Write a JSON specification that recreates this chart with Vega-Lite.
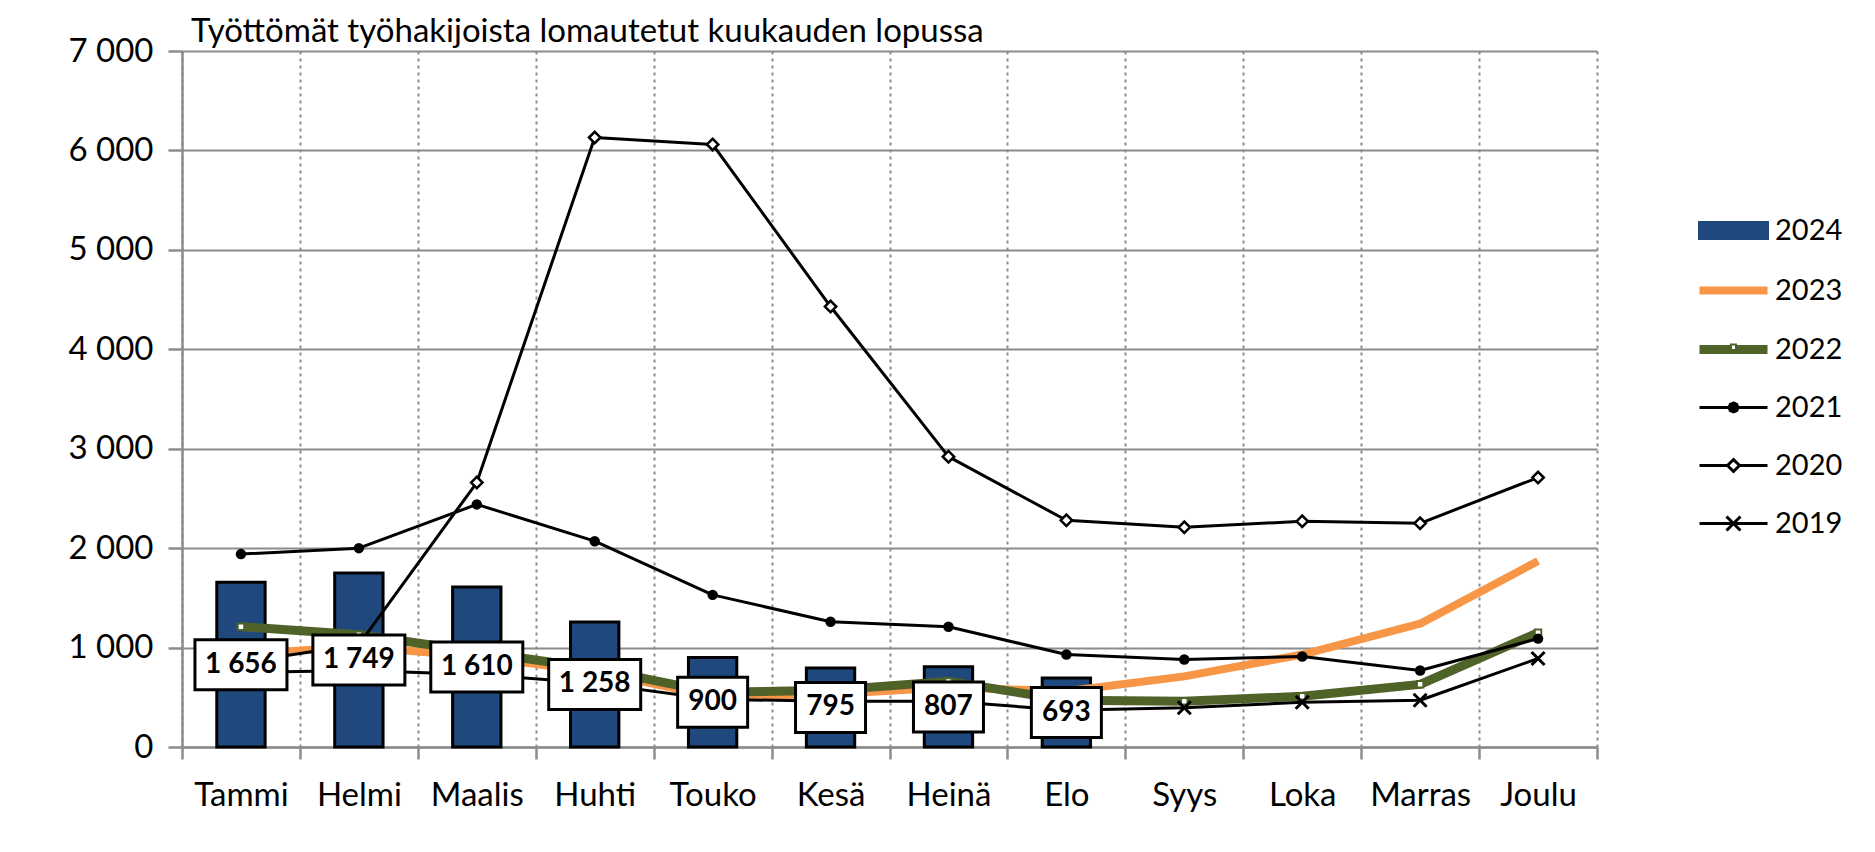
{
  "$schema": "https://vega.github.io/schema/vega-lite/v6.json",
  "width": 1415,
  "height": 696,
  "autosize": {"type": "none"},
  "padding": {"left": 182, "top": 51, "right": 278, "bottom": 105},
  "background": "#ffffff",
  "title": {
    "text": "Työttömät työhakijoista lomautetut kuukauden lopussa",
    "anchor": "start",
    "frame": "group",
    "dx": 9,
    "offset": -40,
    "baseline": "alphabetic",
    "font": "Lato",
    "fontSize": 33,
    "fontWeight": "normal",
    "color": "#000000"
  },
  "config": {
    "font": "Lato",
    "view": {"stroke": null},
    "axis": {
      "title": null,
      "labelFont": "Lato",
      "labelFontSize": 33,
      "labelColor": "#000000",
      "domainColor": "#8C8C8C",
      "domainWidth": 2.5,
      "tickColor": "#8C8C8C",
      "tickWidth": 2.5,
      "gridColor": "#8C8C8C"
    }
  },
  "data": {
    "values": [
      {"m": "Tammi", "y": "2024", "v": 1656},
      {"m": "Helmi", "y": "2024", "v": 1749},
      {"m": "Maalis", "y": "2024", "v": 1610},
      {"m": "Huhti", "y": "2024", "v": 1258},
      {"m": "Touko", "y": "2024", "v": 900},
      {"m": "Kesä", "y": "2024", "v": 795},
      {"m": "Heinä", "y": "2024", "v": 807},
      {"m": "Elo", "y": "2024", "v": 693},

      {"m": "Tammi", "y": "2023", "v": 930},
      {"m": "Helmi", "y": "2023", "v": 1010},
      {"m": "Maalis", "y": "2023", "v": 910},
      {"m": "Huhti", "y": "2023", "v": 760},
      {"m": "Touko", "y": "2023", "v": 510},
      {"m": "Kesä", "y": "2023", "v": 530},
      {"m": "Heinä", "y": "2023", "v": 600},
      {"m": "Elo", "y": "2023", "v": 560},
      {"m": "Syys", "y": "2023", "v": 710},
      {"m": "Loka", "y": "2023", "v": 930},
      {"m": "Marras", "y": "2023", "v": 1240},
      {"m": "Joulu", "y": "2023", "v": 1870},

      {"m": "Tammi", "y": "2022", "v": 1210},
      {"m": "Helmi", "y": "2022", "v": 1130},
      {"m": "Maalis", "y": "2022", "v": 960},
      {"m": "Huhti", "y": "2022", "v": 790},
      {"m": "Touko", "y": "2022", "v": 550},
      {"m": "Kesä", "y": "2022", "v": 570},
      {"m": "Heinä", "y": "2022", "v": 660},
      {"m": "Elo", "y": "2022", "v": 470},
      {"m": "Syys", "y": "2022", "v": 460},
      {"m": "Loka", "y": "2022", "v": 510},
      {"m": "Marras", "y": "2022", "v": 630},
      {"m": "Joulu", "y": "2022", "v": 1150},

      {"m": "Tammi", "y": "2021", "v": 1940},
      {"m": "Helmi", "y": "2021", "v": 2000},
      {"m": "Maalis", "y": "2021", "v": 2440},
      {"m": "Huhti", "y": "2021", "v": 2070},
      {"m": "Touko", "y": "2021", "v": 1530},
      {"m": "Kesä", "y": "2021", "v": 1260},
      {"m": "Heinä", "y": "2021", "v": 1210},
      {"m": "Elo", "y": "2021", "v": 930},
      {"m": "Syys", "y": "2021", "v": 880},
      {"m": "Loka", "y": "2021", "v": 910},
      {"m": "Marras", "y": "2021", "v": 770},
      {"m": "Joulu", "y": "2021", "v": 1090},

      {"m": "Tammi", "y": "2020", "v": 850},
      {"m": "Helmi", "y": "2020", "v": 1030},
      {"m": "Maalis", "y": "2020", "v": 2660},
      {"m": "Huhti", "y": "2020", "v": 6130},
      {"m": "Touko", "y": "2020", "v": 6060},
      {"m": "Kesä", "y": "2020", "v": 4430},
      {"m": "Heinä", "y": "2020", "v": 2920},
      {"m": "Elo", "y": "2020", "v": 2280},
      {"m": "Syys", "y": "2020", "v": 2210},
      {"m": "Loka", "y": "2020", "v": 2270},
      {"m": "Marras", "y": "2020", "v": 2250},
      {"m": "Joulu", "y": "2020", "v": 2710},

      {"m": "Tammi", "y": "2019", "v": 750},
      {"m": "Helmi", "y": "2019", "v": 770},
      {"m": "Maalis", "y": "2019", "v": 730},
      {"m": "Huhti", "y": "2019", "v": 640},
      {"m": "Touko", "y": "2019", "v": 480},
      {"m": "Kesä", "y": "2019", "v": 460},
      {"m": "Heinä", "y": "2019", "v": 460},
      {"m": "Elo", "y": "2019", "v": 370},
      {"m": "Syys", "y": "2019", "v": 395},
      {"m": "Loka", "y": "2019", "v": 450},
      {"m": "Marras", "y": "2019", "v": 470},
      {"m": "Joulu", "y": "2019", "v": 890}
    ]
  },
  "encoding": {
    "x": {
      "field": "m",
      "type": "nominal",
      "sort": ["Tammi", "Helmi", "Maalis", "Huhti", "Touko", "Kesä", "Heinä", "Elo", "Syys", "Loka", "Marras", "Joulu"],
      "scale": {"paddingInner": 0, "paddingOuter": 0},
      "axis": {
        "labelAngle": 0,
        "grid": true,
        "gridDash": [3, 4],
        "gridWidth": 2,
        "tickBand": "extent",
        "tickSize": 12,
        "labelPadding": 20,
        "labelBaseline": "top"
      }
    }
  },
  "layer": [
    {
      "transform": [{"filter": "datum.y == '2024'"}],
      "mark": {"type": "bar", "width": {"band": 0.41}, "fill": "#1F497D", "stroke": "#000000", "strokeWidth": 3},
      "encoding": {
        "y": {
          "field": "v",
          "type": "quantitative",
          "scale": {"domain": [0, 7000], "nice": false},
          "axis": {
            "values": [0, 1000, 2000, 3000, 4000, 5000, 6000, 7000],
            "labelExpr": "replace(format(datum.value, ','), ',', ' ')",
            "grid": true,
            "gridWidth": 2,
            "tickSize": 14,
            "labelPadding": 15
          }
        }
      }
    },
    {
      "transform": [{"filter": "datum.y == '2023'"}],
      "mark": {"type": "line", "strokeWidth": 8, "strokeJoin": "round"},
      "encoding": {
        "y": {"field": "v", "type": "quantitative"},
        "color": {
          "field": "y",
          "type": "nominal",
          "scale": {
            "domain": ["2024", "2023", "2022", "2021", "2020", "2019"],
            "range": ["#1F497D", "#F79646", "#4F6228", "#000000", "#000000", "#000000"]
          },
          "legend": {
            "title": null,
            "orient": "none",
            "legendX": 1537,
            "legendY": 165,
            "padding": 0,
            "symbolSize": 4,
            "symbolStrokeWidth": 3,
            "labelOffset": 27,
            "labelFont": "Lato",
            "labelFontSize": 29,
            "labelColor": "#000000",
            "rowPadding": 28,
            "encoding": {
              "symbols": {
                "shape": {"value": {"expr": "datum.value=='2024' ? 'M-34,-8H34V8H-34Z' : datum.value=='2023' ? 'M-34,0H34' : datum.value=='2022' ? 'M-34,-4.5H-3.5V4.5H-34ZM3.5,-4.5H34V4.5H3.5ZM-3.5,1.5H3.5V4.5H-3.5ZM-3.5,-6H3.5V1.5H-3.5ZM-1.5,-4V-0.5H1.5V-4Z' : datum.value=='2021' ? 'M-34,0H34M0,-4.5L3.2,-3.2L4.5,0L3.2,3.2L0,4.5L-3.2,3.2L-4.5,0L-3.2,-3.2Z' : datum.value=='2020' ? 'M-34,0H-6M6,0H34M0,-6L6,0L0,6L-6,0Z' : 'M-34,0H34M-7,-7L7,7M7,-7L-7,7'"}},
                "fill": {"value": {"expr": "datum.value=='2024' ? '#1F497D' : datum.value=='2022' ? '#4F6228' : datum.value=='2021' ? '#000000' : datum.value=='2020' ? '#ffffff' : 'transparent'"}},
                "stroke": {"value": {"expr": "datum.value=='2023' ? '#F79646' : datum.value=='2022' ? 'transparent' : '#000000'"}},
                "strokeWidth": {"value": {"expr": "datum.value=='2023' ? 8 : datum.value=='2022' ? 0 : 3"}},
                "size": {"value": 4},
                "opacity": {"value": 1},
                "fillOpacity": {"value": 1},
                "strokeOpacity": {"value": 1}
              }
            }
          }
        }
      }
    },
    {
      "transform": [{"filter": "datum.y == '2022'"}],
      "mark": {"type": "line", "strokeWidth": 9, "strokeJoin": "round", "color": "#4F6228"},
      "encoding": {"y": {"field": "v", "type": "quantitative"}}
    },
    {
      "transform": [{"filter": "datum.y == '2022'"}],
      "mark": {"type": "point", "shape": "square", "size": 42, "filled": true, "fill": "#ffffff", "stroke": "#4F6228", "strokeWidth": 2, "opacity": 1},
      "encoding": {"y": {"field": "v", "type": "quantitative"}}
    },
    {
      "transform": [{"filter": "datum.y == '2021'"}],
      "mark": {"type": "line", "strokeWidth": 3, "strokeJoin": "round", "color": "#000000"},
      "encoding": {"y": {"field": "v", "type": "quantitative"}}
    },
    {
      "transform": [{"filter": "datum.y == '2021'"}],
      "mark": {"type": "point", "shape": "circle", "size": 110, "filled": true, "color": "#000000", "opacity": 1},
      "encoding": {"y": {"field": "v", "type": "quantitative"}}
    },
    {
      "transform": [{"filter": "datum.y == '2020'"}],
      "mark": {"type": "line", "strokeWidth": 3, "strokeJoin": "round", "color": "#000000"},
      "encoding": {"y": {"field": "v", "type": "quantitative"}}
    },
    {
      "transform": [{"filter": "datum.y == '2020'"}],
      "mark": {"type": "point", "shape": "diamond", "size": 130, "filled": true, "fill": "#ffffff", "stroke": "#000000", "strokeWidth": 2.5, "opacity": 1},
      "encoding": {"y": {"field": "v", "type": "quantitative"}}
    },
    {
      "transform": [{"filter": "datum.y == '2019'"}],
      "mark": {"type": "line", "strokeWidth": 3, "strokeJoin": "round", "color": "#000000"},
      "encoding": {"y": {"field": "v", "type": "quantitative"}}
    },
    {
      "transform": [{"filter": "datum.y == '2019'"}],
      "mark": {"type": "point", "shape": "M-6.5,-6.5L6.5,6.5M6.5,-6.5L-6.5,6.5", "size": 4, "filled": false, "stroke": "#000000", "strokeWidth": 3, "opacity": 1},
      "encoding": {"y": {"field": "v", "type": "quantitative"}}
    },
    {
      "transform": [{"filter": "datum.y == '2024'"}, {"calculate": "datum.v / 2", "as": "mid"}],
      "mark": {"type": "point", "size": 4, "filled": true, "fill": "#ffffff", "stroke": "#000000", "strokeWidth": 3, "opacity": 1},
      "encoding": {
        "y": {"field": "mid", "type": "quantitative"},
        "shape": {
          "condition": {"test": "datum.v >= 1000", "value": "M-46,-25H46V25H-46Z"},
          "value": "M-35,-25H35V25H-35Z"
        }
      }
    },
    {
      "transform": [
        {"filter": "datum.y == '2024'"},
        {"calculate": "datum.v / 2", "as": "mid"},
        {"calculate": "replace(format(datum.v, ','), ',', ' ')", "as": "lab"}
      ],
      "mark": {"type": "text", "font": "Lato", "fontSize": 28, "fontWeight": "bold", "color": "#000000", "align": "center", "baseline": "middle"},
      "encoding": {
        "y": {"field": "mid", "type": "quantitative"},
        "text": {"field": "lab"}
      }
    }
  ]
}
